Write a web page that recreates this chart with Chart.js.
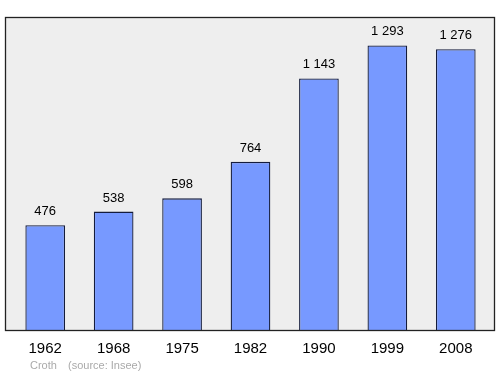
<!DOCTYPE html>
<html>
<head>
<meta charset="utf-8">
<script src="https://cdn.jsdelivr.net/npm/chart.js@4/dist/chart.umd.min.js"></script>
<style>
  html, body { margin: 0; padding: 0; background: #fff; }
  #chartCanvas { display: block; }
</style>
</head>
<body>
<canvas id="chartCanvas" width="500" height="374"></canvas>
<script>
const years = ["1962", "1968", "1975", "1982", "1990", "1999", "2008"];
const population = [476, 538, 598, 764, 1143, 1293, 1276];
const commune = "Croth";
const source = "(source: Insee)";

const fmt = (v) => String(v).replace(/\B(?=(\d{3})+(?!\d))/g, " ");
const FONT = "'Liberation Sans', Arial, sans-serif";

// grey frame behind the bars, a bit wider than the category area
const frame = {
    id: "frame",
    beforeDatasetsDraw(chart) {
        const { ctx } = chart;
        const bottom = chart.scales.y.getPixelForValue(0);
        ctx.save();
        ctx.fillStyle = "#eeeeee";
        ctx.fillRect(5, 17, 490, bottom - 17);
        ctx.restore();
    },
    afterDatasetsDraw(chart) {
        const { ctx } = chart;
        const bottom = chart.scales.y.getPixelForValue(0);
        ctx.save();
        ctx.strokeStyle = "#222222";
        ctx.lineWidth = 1.3;
        ctx.strokeRect(5.5, 17.5, 489, bottom - 17);

        // value labels above bars
        ctx.fillStyle = "#000";
        ctx.font = "13px " + FONT;
        ctx.textAlign = "center";
        ctx.textBaseline = "alphabetic";
        chart.getDatasetMeta(0).data.forEach((bar, i) => {
            ctx.fillText(fmt(population[i]), bar.x, bar.y - 10);
        });

        ctx.fillStyle = "#aaaaaa";
        ctx.font = "11px " + FONT;
        ctx.textAlign = "left";
        ctx.fillText(commune, 30, 369);
        ctx.fillText(source, 68, 369);
        ctx.restore();
    },
};

new Chart(document.getElementById("chartCanvas").getContext("2d"), {
    type: "bar",
    data: {
        labels: years,
        datasets: [
            {
                data: population,
                backgroundColor: "#7799ff",
                borderColor: "#141c3c",
                borderWidth: 1.3,
                barPercentage: 0.58,
                categoryPercentage: 1,
            },
        ],
    },
    options: {
        responsive: false,
        animation: false,
        layout: { padding: { left: 11, right: 10, top: 17, bottom: 0 } },
        plugins: { legend: { display: false }, tooltip: { enabled: false } },
        scales: {
            y: { display: false, min: 0, max: 1422 },
            x: {
                grid: { display: false },
                border: { display: false },
                ticks: {
                    color: "#000",
                    font: { family: FONT, size: 15 },
                    padding: 2,
                },
                afterFit(scale) { scale.height = 44; },
            },
        },
    },
    plugins: [frame],
});
</script>
</body>
</html>
